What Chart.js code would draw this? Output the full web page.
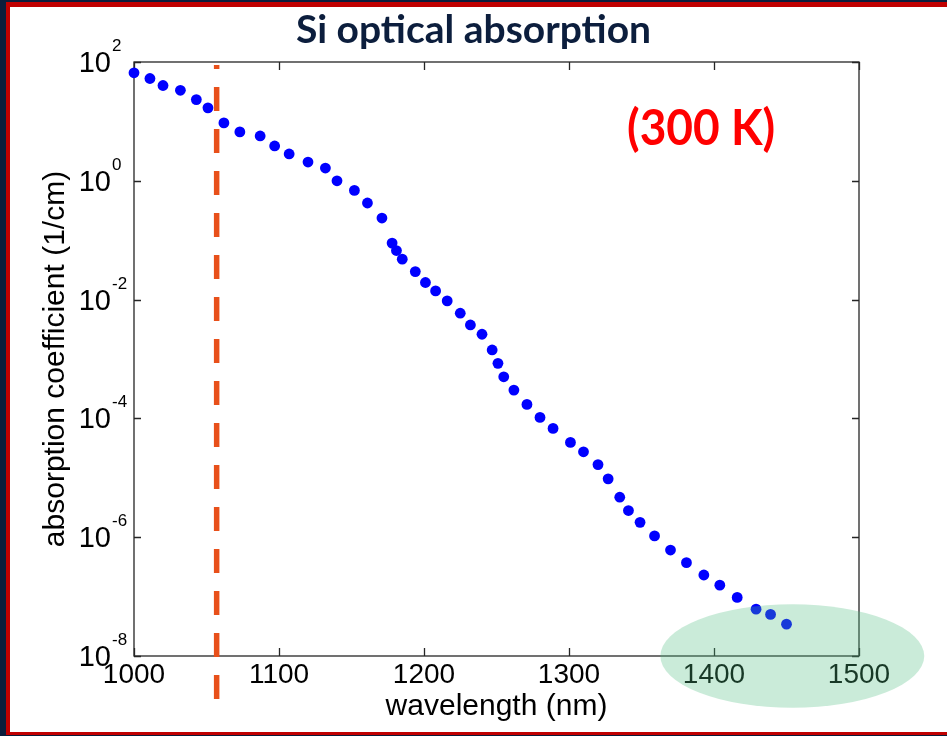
<!DOCTYPE html>
<html>
<head>
<meta charset="utf-8">
<script src="https://cdn.jsdelivr.net/npm/chart.js@4.4.1/dist/chart.umd.min.js"></script>
<style>
    html, body { margin: 0; padding: 0; background: #0b1e3c; }
    #wrap { position: absolute; left: 0; top: 0; width: 947px; height: 736px; }
</style>
</head>
<body>
<div id="wrap"><canvas id="si-chart" width="947" height="736"></canvas></div>
<script>

// measured points, wavelength in nm
const wavelength = [1000, 1011, 1020, 1032, 1043, 1051, 1062, 1073, 1087, 1097,
    1107, 1120, 1132, 1140, 1152, 1161, 1171, 1178, 1181, 1185,
    1194, 1201, 1208, 1216, 1225, 1232, 1240, 1247, 1251, 1255,
    1262, 1271, 1280, 1289, 1301, 1310, 1320, 1327, 1335, 1341,
    1349, 1359, 1370, 1381, 1393, 1404, 1416, 1429, 1439, 1450];

// absorption coefficient in 1/cm
const absorption = [65.8, 52.7, 40.2, 33.4, 23.3, 16.9, 9.44, 6.65, 5.69, 3.86,
    2.83, 2.07, 1.64, 1.0, 0.689, 0.423, 0.236, 0.0893, 0.067, 0.048,
    0.0296, 0.0194, 0.0140, 0.0095, 0.0059, 0.00374, 0.00261, 0.00142, 8.45e-4, 5.02e-4,
    3.0e-4, 1.72e-4, 1.04e-4, 6.78e-5, 3.94e-5, 2.74e-5, 1.67e-5, 9.6e-6, 4.71e-6, 2.81e-6,
    1.78e-6, 1.05e-6, 6.08e-7, 3.73e-7, 2.31e-7, 1.56e-7, 9.68e-8, 6.15e-8, 5.01e-8, 3.44e-8];

const xTicks = [1000, 1100, 1200, 1300, 1400, 1500];
const yTicks = [1e-8, 1e-6, 1e-4, 1e-2, 1e0, 1e2];
const yTickExponents = ['-8', '-6', '-4', '-2', '0', '2'];

const cutoffWavelength = 1057;   // dashed line
const highlight = { x: 1454, y: 1e-8, spanNm: 91, spanDecades: 0.87 };

const axisFont = "'Liberation Sans', Arial, sans-serif";
const axisColor = '#262626';

const points = wavelength.map((w, i) => ({ x: w, y: absorption[i] }));


const framePlugin = {
    id: 'frame',
    beforeDraw(chart) {
        const ctx = chart.ctx;
        ctx.save();
        ctx.fillStyle = '#0b1e3c';
        ctx.fillRect(0, 0, chart.width, chart.height);
        ctx.fillStyle = '#c00000';
        ctx.fillRect(6, 2, chart.width - 6, chart.height - 3);
        ctx.fillStyle = '#ffffff';
        ctx.fillRect(10, 7, chart.width - 10, chart.height - 11);

        // slide title, centred on the page
        ctx.fillStyle = '#0c1e3d';
        ctx.font = "bold 39px Lato, 'Open Sans', sans-serif";
        ctx.textAlign = 'center';
        ctx.textBaseline = 'alphabetic';
        ctx.fillText('Si optical absorption', chart.width / 2, 43);
        ctx.restore();
    }
};

// MATLAB style box with inward ticks + 10^n labels
const boxPlugin = {
    id: 'box',
    beforeDatasetsDraw(chart) {
        const { ctx, chartArea: a, scales } = chart;
        const xs = scales.x, ys = scales.y;
        ctx.save();
        ctx.strokeStyle = axisColor;
        ctx.lineWidth = 1.3;
        ctx.strokeRect(a.left, a.top, a.right - a.left, a.bottom - a.top);
        ctx.beginPath();
        xTicks.forEach(v => {
            const px = Math.round(xs.getPixelForValue(v)) + 0.5;
            ctx.moveTo(px, a.bottom); ctx.lineTo(px, a.bottom - 8);
            ctx.moveTo(px, a.top); ctx.lineTo(px, a.top + 8);
        });
        yTicks.forEach(v => {
            const py = Math.round(ys.getPixelForValue(v)) + 0.5;
            ctx.moveTo(a.left, py); ctx.lineTo(a.left + 7, py);
            ctx.moveTo(a.right, py); ctx.lineTo(a.right - 7, py);
        });
        ctx.stroke();

        ctx.fillStyle = '#000';
        yTicks.forEach((v, i) => {
            const py = ys.getPixelForValue(v);
            ctx.font = '29px ' + axisFont;
            ctx.textAlign = 'right';
            ctx.textBaseline = 'alphabetic';
            ctx.fillText('10', a.left - 23, py + 10);
            ctx.font = '17px ' + axisFont;
            ctx.textAlign = 'left';
            ctx.fillText(yTickExponents[i], a.left - 22, py - 11);
        });
        ctx.restore();
    },
    afterDatasetsDraw(chart) {
        const { ctx, chartArea: a, scales } = chart;
        const xs = scales.x;
        ctx.save();

        // band edge marker
        const cx = xs.getPixelForValue(cutoffWavelength);
        ctx.strokeStyle = '#e8501a';
        ctx.lineWidth = 5.5;
        ctx.setLineDash([24, 18]);
        ctx.lineDashOffset = 20;
        ctx.beginPath();
        ctx.moveTo(cx, a.top + 3);
        ctx.lineTo(cx, a.bottom + 43);
        ctx.stroke();
        ctx.setLineDash([]);

        // temperature note
        ctx.fillStyle = '#ff0000';
        ctx.font = "bold 49px Lato, 'Open Sans', sans-serif";
        ctx.textAlign = 'left';
        ctx.textBaseline = 'alphabetic';
        ctx.translate(a.left + 493, a.top + 83);
        ctx.scale(0.94, 1);
        ctx.fillText('(300 K)', 0, 0);
        ctx.restore();
    },
    afterDraw(chart) {
        const { ctx, scales } = chart;
        const xs = scales.x, ys = scales.y;
        const ex = xs.getPixelForValue(highlight.x);
        const ey = ys.getPixelForValue(highlight.y);
        const rx = xs.getPixelForValue(highlight.x + highlight.spanNm) - ex;
        const ry = ys.getPixelForValue(highlight.y) - ys.getPixelForValue(highlight.y * Math.pow(10, highlight.spanDecades));
        ctx.save();
        ctx.fillStyle = 'rgba(80, 190, 130, 0.3)';
        ctx.beginPath();
        ctx.ellipse(ex, ey, rx, ry, 0, 0, Math.PI * 2);
        ctx.fill();
        ctx.restore();
    }
};


new Chart(document.getElementById('si-chart'), {
    type: 'scatter',
    data: {
        datasets: [{
            data: points,
            backgroundColor: '#0000ff',
            borderWidth: 0,
            pointRadius: 5.4,
            clip: false
        }]
    },
    options: {
        responsive: false,
        animation: false,
        devicePixelRatio: 1,
        layout: { padding: { left: 0, right: 88, top: 62, bottom: 0 } },
        plugins: {
            legend: { display: false },
            tooltip: { enabled: false },
            title: { display: false }
        },
        scales: {
            x: {
                type: 'linear',
                min: 1000,
                max: 1500,
                afterBuildTicks: (scale) => { scale.ticks = xTicks.map(v => ({ value: v })); },
                afterFit: (scale) => { scale.height = 80; },
                grid: { display: false, drawTicks: false },
                border: { display: false },
                ticks: {
                    autoSkip: false,
                    maxRotation: 0,
                    padding: 2,
                    color: '#000',
                    font: { family: axisFont, size: 28 },
                    callback: (v) => String(v)
                },
                title: {
                    display: true,
                    text: 'wavelength (nm)',
                    color: '#000',
                    font: { family: axisFont, size: 30 },
                    padding: { top: 0, bottom: 11 }
                }
            },
            y: {
                type: 'logarithmic',
                min: 1e-8,
                max: 1e2,
                afterBuildTicks: (scale) => { scale.ticks = yTicks.map(v => ({ value: v })); },
                afterFit: (scale) => { scale.width = 134; },
                grid: { display: false, drawTicks: false },
                border: { display: false },
                ticks: { display: false },
                title: {
                    display: true,
                    text: 'absorption coefficient (1/cm)',
                    color: '#000',
                    font: { family: axisFont, size: 30 },
                    padding: { top: 38, bottom: 0 }
                }
            }
        }
    },
    plugins: [framePlugin, boxPlugin]
});
</script>
</body>
</html>
